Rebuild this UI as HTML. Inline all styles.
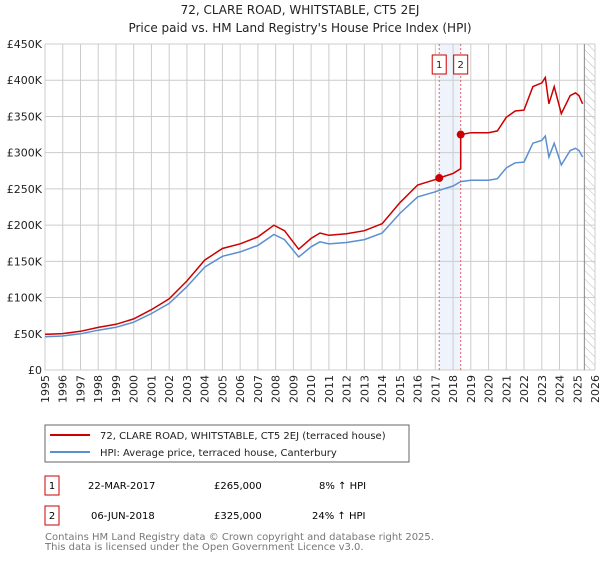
<!DOCTYPE html>
<html><head><meta charset="utf-8"><style>
body{margin:0;background:#fff;font-family:"DejaVu Sans","Liberation Sans",sans-serif;}
svg text{font-family:"DejaVu Sans","Liberation Sans",sans-serif;}
</style></head><body>
<svg id="c" width="600" height="560" xmlns="http://www.w3.org/2000/svg">
<defs><pattern id="hatch" width="6" height="6" patternUnits="userSpaceOnUse" patternTransform="rotate(-45)"><line x1="0" y1="0" x2="0" y2="6" stroke="#bbb" stroke-width="1"/></pattern></defs>
<text x="300" y="14" text-anchor="middle" font-size="12" fill="#222">72, CLARE ROAD, WHITSTABLE, CT5 2EJ</text>
<text x="300" y="32" text-anchor="middle" font-size="12" fill="#222">Price paid vs. HM Land Registry's House Price Index (HPI)</text>
<g id="grid"></g><g id="marks"></g><g id="axes"></g>
<rect x="45" y="425" width="364" height="37" fill="#fff" stroke="#666"/>
<line x1="50" y1="435" x2="90" y2="435" stroke="#cc0000" stroke-width="2"/>
<text x="100" y="439" font-size="10" fill="#222">72, CLARE ROAD, WHITSTABLE, CT5 2EJ (terraced house)</text>
<line x1="50" y1="452" x2="90" y2="452" stroke="#5b8fd0" stroke-width="2"/>
<text x="100" y="456" font-size="10" fill="#222">HPI: Average price, terraced house, Canterbury</text>
<g>
<rect x="45" y="476" width="14" height="19" fill="#fff" stroke="#cc0000"/><text x="52" y="489" text-anchor="middle" font-size="10">1</text>
<text x="88" y="489" font-size="10">22-MAR-2017</text><text x="214" y="489" font-size="10">£265,000</text><text x="319" y="489" font-size="10">8% ↑ HPI</text></g>
<g>
<rect x="45" y="506" width="14" height="19" fill="#fff" stroke="#cc0000"/><text x="52" y="519" text-anchor="middle" font-size="10">2</text>
<text x="91" y="519" font-size="10">06-JUN-2018</text><text x="214" y="519" font-size="10">£325,000</text><text x="312" y="519" font-size="10">24% ↑ HPI</text></g>
<text x="45" y="540" font-size="10" fill="#777">Contains HM Land Registry data © Crown copyright and database right 2025.</text>
<text x="45" y="550" font-size="10" fill="#777">This data is licensed under the Open Government Licence v3.0.</text>
</svg>
<script>
const hpiYears=[1995,1996,1997,1998,1999,2000,2001,2002,2003,2004,2005,2006,2007,2007.9,2008.5,2009.3,2010,2010.5,2011,2012,2013,2014,2015,2016,2017,2017.22,2018,2018.43,2019,2020,2020.5,2021,2021.5,2022,2022.5,2023,2023.2,2023.4,2023.7,2024.1,2024.6,2024.9,2025.1,2025.3];
const hpiValues=[46,47,50,55,59,66,78,92,115,142,157,163,172,187,180,156,170,177,174,176,180,189,216,239,246,248,254,260,262,262,264,279,286,287,313,317,323,294,313,283,303,306,303,294];
const saleYears=[2017.22,2018.43];
const salePrices=[265,325];
const yTicks=[0,50,100,150,200,250,300,350,400,450];
const xTicks=[1995,1996,1997,1998,1999,2000,2001,2002,2003,2004,2005,2006,2007,2008,2009,2010,2011,2012,2013,2014,2015,2016,2017,2018,2019,2020,2021,2022,2023,2024,2025,2026];
const X0=45,X1=595,Y0=370,Y1=44;
const sx=y=>X0+(y-1995)/(2026-1995)*(X1-X0);
const sy=v=>Y0-v/450*(Y0-Y1);
const NS="http://www.w3.org/2000/svg";
function mk(p,t,a){const e=document.createElementNS(NS,t);for(const k in a)e.setAttribute(k,a[k]);p.appendChild(e);return e;}
const grid=document.getElementById('grid'),marks=document.getElementById('marks'),axes=document.getElementById('axes');
mk(grid,'rect',{x:sx(2025.4),y:Y1,width:X1-sx(2025.4),height:Y0-Y1,fill:'url(#hatch)'});
const band=mk(grid,'rect',{x:sx(saleYears[0]),y:Y1,width:sx(saleYears[1])-sx(saleYears[0]),height:Y0-Y1,fill:'#eef3fc'});


yTicks.forEach(t=>{
 const l=mk(grid,'line',{x1:X0,x2:X1,y1:sy(t),y2:sy(t),stroke:'#ccc'});
 
 
 const tx=mk(axes,'text',{x:X0-3,y:sy(t)+4,'text-anchor':'end','font-size':11,fill:'#222'});
 tx.textContent=t===0?'£0':'£'+t+'K';
 
 
});
xTicks.forEach(t=>{
 const l=mk(grid,'line',{y1:Y1,y2:Y0,x1:sx(t),x2:sx(t),stroke:'#ccc'});
 
 
 const tx=mk(axes,'text',{x:sx(t),y:Y0+14,'text-anchor':'end','font-size':11,fill:'#222',transform:`rotate(-90 ${sx(t)} ${Y0+14})`,dx:-0,dy:4});
 tx.setAttribute('transform',`rotate(-90 ${sx(t)+4} ${Y0+5})`);
 tx.setAttribute('x',sx(t)+4);tx.setAttribute('y',Y0+5);tx.setAttribute('dy',0);
 tx.textContent=t;
 
 
});
mk(grid,'line',{x1:sx(2025.4),x2:sx(2025.4),y1:Y1,y2:Y0,stroke:'#888'});
function hpiAt(y){for(let i=1;i<hpiYears.length;i++){if(y<=hpiYears[i]){const f=(y-hpiYears[i-1])/(hpiYears[i]-hpiYears[i-1]);return hpiValues[i-1]+f*(hpiValues[i]-hpiValues[i-1]);}}return hpiValues[hpiValues.length-1];}
saleYears.forEach((s,i)=>{
 const l=mk(marks,'line',{x1:sx(s),x2:sx(s),y1:Y1,y2:Y0,stroke:'#e06666','stroke-dasharray':'2,2'});
 
 
 const g=mk(marks,'g',{});
 
 
 mk(g,'rect',{x:sx(s)-7,y:55,width:14,height:19,fill:'#fff',stroke:'#cc0000'});
 const t=mk(g,'text',{x:sx(s),y:68,'text-anchor':'middle','font-size':10,fill:'#222'});t.textContent=i+1;
});
const hp=hpiYears.map((y,i)=>(i?'L':'M')+sx(y).toFixed(1)+','+sy(hpiValues[i]).toFixed(1)).join('');
const hl=mk(marks,'path',{d:hp,fill:'none',stroke:'#5b8fd0','stroke-width':1.5});


// property line: indexed to HPI from each sale
const r1=salePrices[0]/hpiAt(saleYears[0]),r2=salePrices[1]/hpiAt(saleYears[1]);
let pts=[];
hpiYears.forEach((y,i)=>{if(y<saleYears[1])pts.push([y,hpiValues[i]*r1]);});
pts.push([saleYears[1],hpiAt(saleYears[1])*r1]);
pts.push([saleYears[1],salePrices[1]]);
hpiYears.forEach((y,i)=>{if(y>saleYears[1])pts.push([y,hpiValues[i]*r2]);});
const rp=pts.map((p,i)=>(i?'L':'M')+sx(p[0]).toFixed(1)+','+sy(p[1]).toFixed(1)).join('');
const rl=mk(marks,'path',{d:rp,fill:'none',stroke:'#cc0000','stroke-width':1.5});


saleYears.forEach((s,i)=>{
 const c=mk(marks,'circle',{cx:sx(s),cy:sy(salePrices[i]),r:4,fill:'#cc0000'});
 
 
});
</script>
</body></html>
